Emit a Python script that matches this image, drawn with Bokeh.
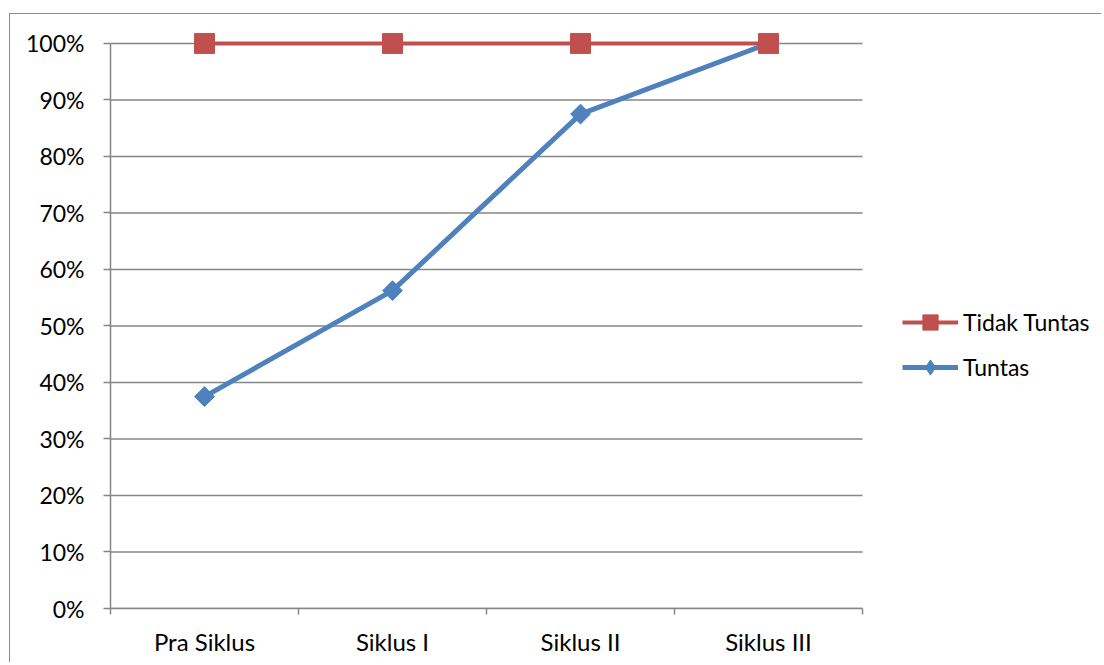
from bokeh.plotting import figure
from bokeh.models import Range1d, FixedTicker, NumeralTickFormatter, Legend, LegendItem
from bokeh.embed import file_html
from bokeh.resources import INLINE
import numpy as np

categories = ["Pra Siklus", "Siklus I", "Siklus II", "Siklus III"]
tuntas = [0.375, 0.5625, 0.875, 1.0]
tidak_tuntas = [1.0, 1.0, 1.0, 1.0]
y_ticks = [0.0, 0.1, 0.2, 0.3, 0.4, 0.5, 0.6, 0.7, 0.8, 0.9, 1.0]

FONT = "Lato"
FS = "23px"
GRID = "#868686"
BLUE = "#4F81BD"
RED = "#C0504D"

n = len(categories)
xs = [i + 0.5 for i in range(n)]

W, H = 1092, 649
LEFT, TOP, BOTTOM = 100, 12, 55
frame_w = W - LEFT
x_end = n * frame_w / 752.0  # extra room on the right for the legend

p = figure(width=W, height=H, x_range=Range1d(0, x_end), y_range=Range1d(0, 1.03),
           output_backend="svg", toolbar_location=None,
           min_border_left=LEFT, min_border_right=0, min_border_top=TOP, min_border_bottom=BOTTOM)
p.margin = (13, 0, 0, 9)
p.styles = {"border-top": "1px solid #8c8c8c", "border-left": "1px solid #8c8c8c"}
p.outline_line_color = None
p.background_fill_color = "white"
p.border_fill_color = "white"

p.xgrid.visible = False
p.ygrid.visible = False
# horizontal gridlines limited to the category area
p.segment(x0=[0] * len(y_ticks), x1=[n] * len(y_ticks), y0=y_ticks, y1=y_ticks,
          line_color=GRID, line_width=1.5)

p.yaxis.ticker = FixedTicker(ticks=y_ticks)
p.yaxis.bounds = (0, 1)
p.yaxis.formatter = NumeralTickFormatter(format="0%")
p.yaxis.axis_line_color = GRID
p.yaxis.axis_line_width = 1.5
p.yaxis.major_tick_line_color = GRID
p.yaxis.major_tick_line_width = 1.5
p.yaxis.major_tick_out = 7
p.yaxis.major_tick_in = 0
p.yaxis.minor_tick_line_color = None
p.yaxis.major_label_standoff = 19
p.yaxis.major_label_text_font = FONT
p.yaxis.major_label_text_font_size = FS
p.yaxis.major_label_text_color = "black"

p.xaxis.ticker = FixedTicker(ticks=xs, minor_ticks=list(range(n + 1)))
p.xaxis.bounds = (0, n)
p.xaxis.major_label_overrides = {x: c for x, c in zip(xs, categories)}
p.xaxis.axis_line_color = GRID
p.xaxis.axis_line_width = 1.5
p.xaxis.major_tick_line_color = None
p.xaxis.minor_tick_line_color = GRID
p.xaxis.minor_tick_line_width = 1.5
p.xaxis.minor_tick_out = 6
p.xaxis.minor_tick_in = 0
p.xaxis.major_label_standoff = 12
p.xaxis.major_label_text_font = FONT
p.xaxis.major_label_text_font_size = "24px"
p.xaxis.major_label_text_color = "black"

l_t = p.line(xs, tuntas, line_color=BLUE, line_width=5)
m_t = p.scatter(xs, tuntas, marker="square", angle=np.pi / 4, size=14,
                fill_color=BLUE, line_color=BLUE)
l_r = p.line(xs, tidak_tuntas, line_color=RED, line_width=4)
m_r = p.scatter(xs, tidak_tuntas, marker="square", size=20, fill_color=RED, line_color=RED)

# legend-only marker renderers (nothing drawn in the plot)
lg_r = p.scatter([np.nan], [np.nan], marker="square", fill_color=RED, line_color=RED)
lg_t = p.scatter([np.nan], [np.nan], marker="diamond", fill_color=BLUE, line_color=BLUE)

legend = Legend(items=[LegendItem(label="Tidak Tuntas", renderers=[l_r, lg_r]),
                       LegendItem(label="Tuntas", renderers=[l_t, lg_t])],
                location=(792, 222), orientation="vertical")
legend.border_line_color = None
legend.background_fill_color = None
legend.padding = 0
legend.margin = 0
legend.glyph_width = 56
legend.glyph_height = 38
legend.label_height = 38
legend.label_standoff = 5
legend.spacing = 7
legend.label_text_font = FONT
legend.label_text_font_size = FS
legend.label_text_color = "black"
p.add_layout(legend, "center")

open("out.html", "w").write(file_html(p, INLINE))
